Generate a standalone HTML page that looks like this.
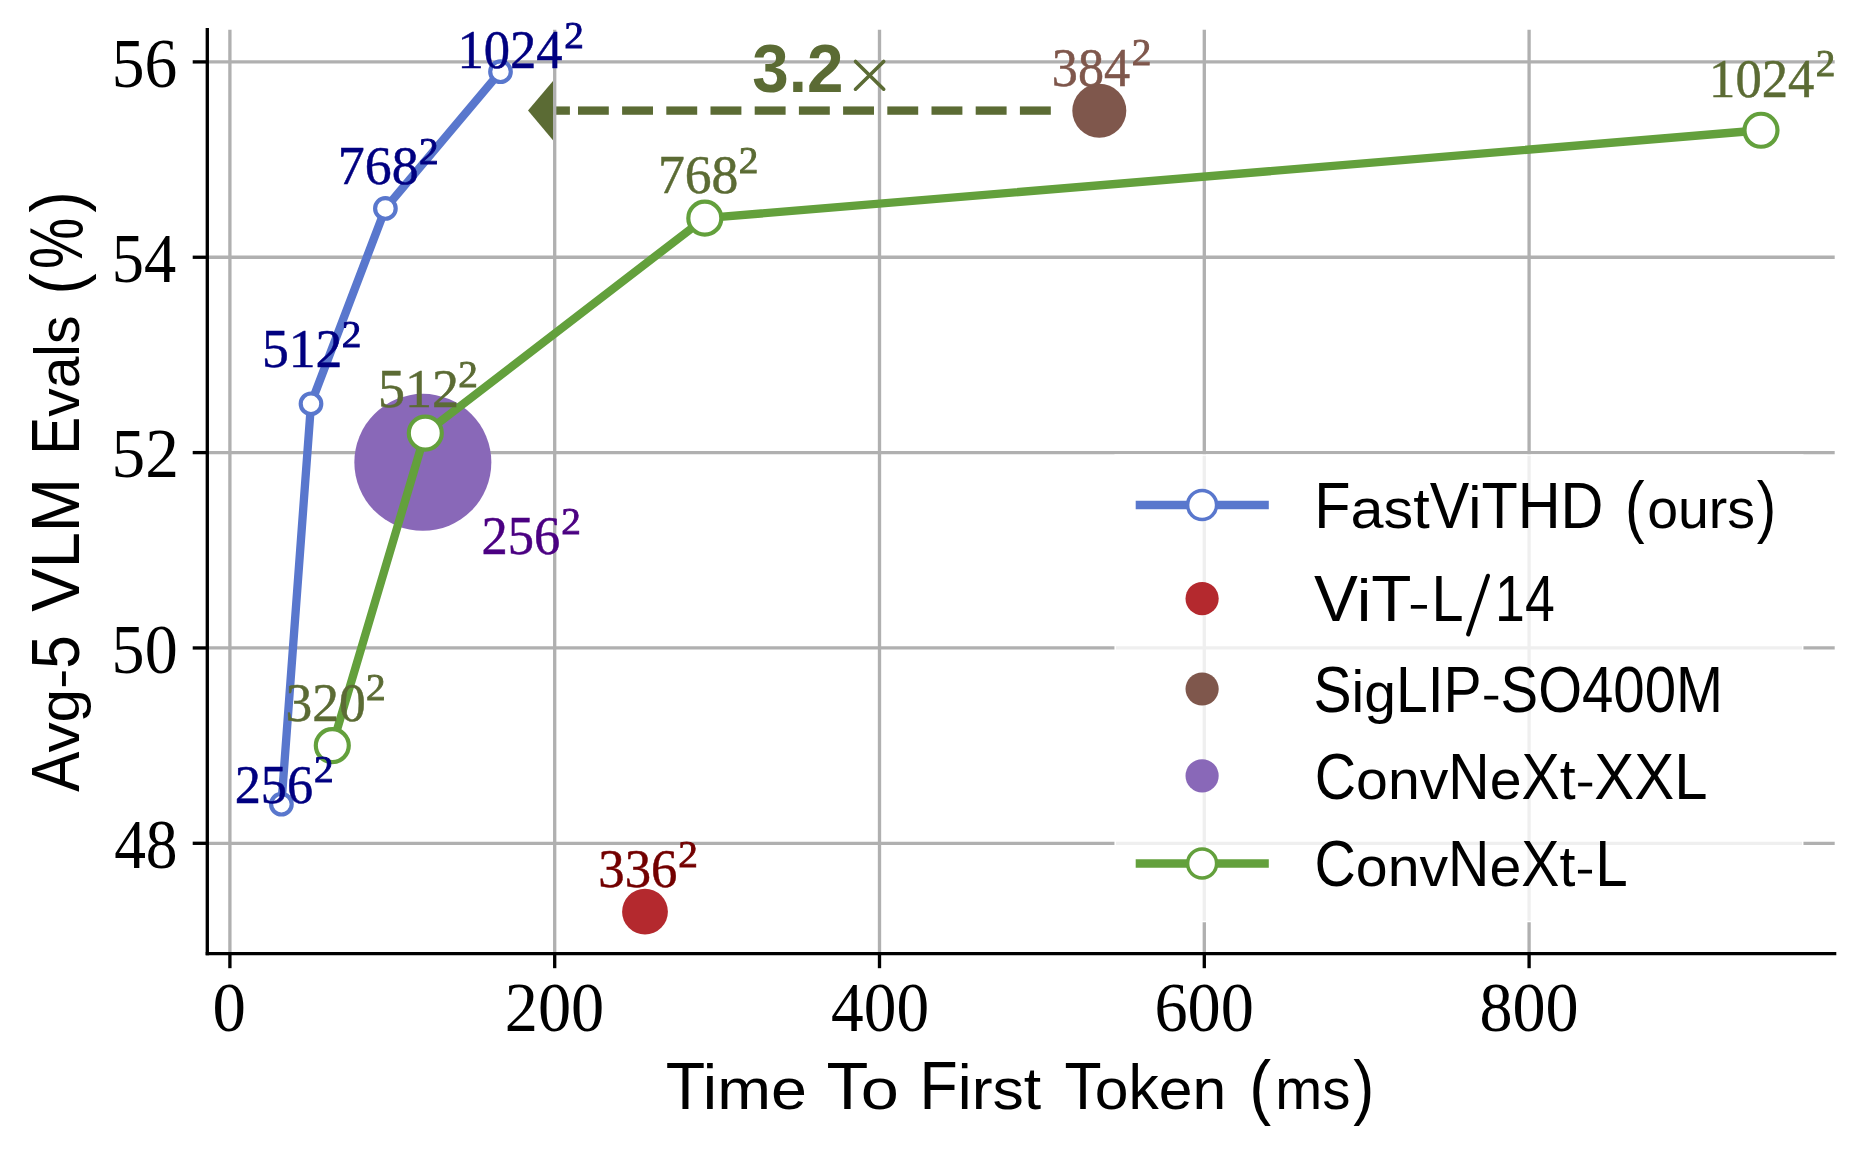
<!DOCTYPE html>
<html><head><meta charset="utf-8"><style>
html,body{margin:0;padding:0;background:#fff;overflow:hidden;}
svg{display:block;will-change:transform;}
text{font-kerning:normal;}
</style></head><body>
<svg width="1864" height="1155" viewBox="0 0 1864 1155">
<rect width="1864" height="1155" fill="#fff"/>
<polygon points="528,110.6 553.2,80.7 553.2,140.6" fill="#5b6b34"/>
<rect x="1019.90" y="106.43" width="30.90" height="8.33" fill="#5b6b34"/>
<rect x="975.70" y="106.43" width="30.90" height="8.33" fill="#5b6b34"/>
<rect x="931.50" y="106.43" width="30.90" height="8.33" fill="#5b6b34"/>
<rect x="887.30" y="106.43" width="30.90" height="8.33" fill="#5b6b34"/>
<rect x="843.10" y="106.43" width="30.90" height="8.33" fill="#5b6b34"/>
<rect x="798.90" y="106.43" width="30.90" height="8.33" fill="#5b6b34"/>
<rect x="754.70" y="106.43" width="30.90" height="8.33" fill="#5b6b34"/>
<rect x="710.50" y="106.43" width="30.90" height="8.33" fill="#5b6b34"/>
<rect x="666.30" y="106.43" width="30.90" height="8.33" fill="#5b6b34"/>
<rect x="622.10" y="106.43" width="30.90" height="8.33" fill="#5b6b34"/>
<rect x="578.00" y="106.43" width="30.80" height="8.33" fill="#5b6b34"/>
<rect x="553" y="106.43" width="16.9" height="8.33" fill="#5b6b34"/>
<line x1="229.90" y1="29.7" x2="229.90" y2="953.6" stroke="#b0b0b0" stroke-width="3.33"/>
<line x1="554.70" y1="29.7" x2="554.70" y2="953.6" stroke="#b0b0b0" stroke-width="3.33"/>
<line x1="879.50" y1="29.7" x2="879.50" y2="953.6" stroke="#b0b0b0" stroke-width="3.33"/>
<line x1="1204.30" y1="29.7" x2="1204.30" y2="953.6" stroke="#b0b0b0" stroke-width="3.33"/>
<line x1="1529.10" y1="29.7" x2="1529.10" y2="953.6" stroke="#b0b0b0" stroke-width="3.33"/>
<line x1="207.3" y1="843.30" x2="1834.7" y2="843.30" stroke="#b0b0b0" stroke-width="3.33"/>
<line x1="207.3" y1="647.95" x2="1834.7" y2="647.95" stroke="#b0b0b0" stroke-width="3.33"/>
<line x1="207.3" y1="452.60" x2="1834.7" y2="452.60" stroke="#b0b0b0" stroke-width="3.33"/>
<line x1="207.3" y1="257.25" x2="1834.7" y2="257.25" stroke="#b0b0b0" stroke-width="3.33"/>
<line x1="207.3" y1="61.90" x2="1834.7" y2="61.90" stroke="#b0b0b0" stroke-width="3.33"/>
<text transform="translate(752.22,91.80) scale(0.9642,1.0000)" font-family="'Liberation Sans',sans-serif" font-size="68.00" font-weight="bold" fill="#5b6b34">3.2</text>
<g stroke="#5b6b34" stroke-width="3.6" stroke-linecap="round"><line x1="855.5" y1="61.5" x2="883.7" y2="89.2"/><line x1="855.5" y1="89.2" x2="883.7" y2="61.5"/></g>
<circle cx="422.85" cy="462.37" r="68.5" fill="#8968b8"/>
<circle cx="645.0" cy="911.67" r="22.9" fill="#b4292e"/>
<circle cx="1099.3" cy="110.74" r="27.0" fill="#7f574c"/>
<polyline points="281.40,804.23 311.00,403.76 385.40,208.41 500.50,71.67" fill="none" stroke="#5977cd" stroke-width="8.33" stroke-linejoin="round"/>
<circle cx="281.40" cy="804.23" r="10.3" fill="#fff" stroke="#5977cd" stroke-width="4.17"/>
<circle cx="311.00" cy="403.76" r="10.3" fill="#fff" stroke="#5977cd" stroke-width="4.17"/>
<circle cx="385.40" cy="208.41" r="10.3" fill="#fff" stroke="#5977cd" stroke-width="4.17"/>
<circle cx="500.50" cy="71.67" r="10.3" fill="#fff" stroke="#5977cd" stroke-width="4.17"/>
<polyline points="332.30,745.62 425.30,433.06 704.80,218.18 1761.00,130.27" fill="none" stroke="#63a03c" stroke-width="8.33" stroke-linejoin="round"/>
<circle cx="332.30" cy="745.62" r="16.5" fill="#fff" stroke="#63a03c" stroke-width="4.17"/>
<circle cx="425.30" cy="433.06" r="16.5" fill="#fff" stroke="#63a03c" stroke-width="4.17"/>
<circle cx="704.80" cy="218.18" r="16.5" fill="#fff" stroke="#63a03c" stroke-width="4.17"/>
<circle cx="1761.00" cy="130.27" r="16.5" fill="#fff" stroke="#63a03c" stroke-width="4.17"/>
<text transform="translate(457.50,68.30) scale(0.9563,1.0000)" font-family="'Liberation Serif',serif" font-size="55.00" fill="#000080" stroke="#000080" stroke-width="0.5">1024</text>
<text transform="translate(564.23,48.00) scale(1.0196,1.0000)" font-family="'Liberation Serif',serif" font-size="38.50" fill="#000080" stroke="#000080" stroke-width="0.9">2</text>
<text transform="translate(337.80,184.10) scale(0.9797,1.0000)" font-family="'Liberation Serif',serif" font-size="55.00" fill="#000080" stroke="#000080" stroke-width="0.5">768</text>
<text transform="translate(418.93,163.80) scale(1.0196,1.0000)" font-family="'Liberation Serif',serif" font-size="38.50" fill="#000080" stroke="#000080" stroke-width="0.9">2</text>
<text transform="translate(261.91,367.30) scale(0.9762,1.0000)" font-family="'Liberation Serif',serif" font-size="55.00" fill="#000080" stroke="#000080" stroke-width="0.5">512</text>
<text transform="translate(341.83,347.00) scale(1.0196,1.0000)" font-family="'Liberation Serif',serif" font-size="38.50" fill="#000080" stroke="#000080" stroke-width="0.9">2</text>
<text transform="translate(234.68,802.70) scale(0.9514,1.0000)" font-family="'Liberation Serif',serif" font-size="55.00" fill="#000080" stroke="#000080" stroke-width="0.5">256</text>
<text transform="translate(313.93,782.40) scale(1.0196,1.0000)" font-family="'Liberation Serif',serif" font-size="38.50" fill="#000080" stroke="#000080" stroke-width="0.9">2</text>
<text transform="translate(285.46,720.50) scale(0.9727,1.0000)" font-family="'Liberation Serif',serif" font-size="55.00" fill="#5b6b34" stroke="#5b6b34" stroke-width="0.5">320</text>
<text transform="translate(366.03,700.20) scale(1.0196,1.0000)" font-family="'Liberation Serif',serif" font-size="38.50" fill="#5b6b34" stroke="#5b6b34" stroke-width="0.9">2</text>
<text transform="translate(377.89,407.10) scale(0.9828,1.0000)" font-family="'Liberation Serif',serif" font-size="55.00" fill="#5b6b34" stroke="#5b6b34" stroke-width="0.5">512</text>
<text transform="translate(458.33,386.80) scale(1.0196,1.0000)" font-family="'Liberation Serif',serif" font-size="38.50" fill="#5b6b34" stroke="#5b6b34" stroke-width="0.9">2</text>
<text transform="translate(657.91,192.90) scale(0.9758,1.0000)" font-family="'Liberation Serif',serif" font-size="55.00" fill="#5b6b34" stroke="#5b6b34" stroke-width="0.5">768</text>
<text transform="translate(738.73,172.60) scale(1.0196,1.0000)" font-family="'Liberation Serif',serif" font-size="38.50" fill="#5b6b34" stroke="#5b6b34" stroke-width="0.9">2</text>
<text transform="translate(1709.10,96.60) scale(0.9563,1.0000)" font-family="'Liberation Serif',serif" font-size="55.00" fill="#5b6b34" stroke="#5b6b34" stroke-width="0.5">1024</text>
<text transform="translate(1815.83,76.30) scale(1.0196,1.0000)" font-family="'Liberation Serif',serif" font-size="38.50" fill="#5b6b34" stroke="#5b6b34" stroke-width="0.9">2</text>
<text transform="translate(481.57,553.80) scale(0.9553,1.0000)" font-family="'Liberation Serif',serif" font-size="55.00" fill="#4b0082" stroke="#4b0082" stroke-width="0.5">256</text>
<text transform="translate(561.13,533.50) scale(1.0196,1.0000)" font-family="'Liberation Serif',serif" font-size="38.50" fill="#4b0082" stroke="#4b0082" stroke-width="0.9">2</text>
<text transform="translate(598.30,887.00) scale(0.9586,1.0000)" font-family="'Liberation Serif',serif" font-size="55.00" fill="#730000" stroke="#730000" stroke-width="0.5">336</text>
<text transform="translate(678.13,866.70) scale(1.0196,1.0000)" font-family="'Liberation Serif',serif" font-size="38.50" fill="#730000" stroke="#730000" stroke-width="0.9">2</text>
<text transform="translate(1051.82,85.60) scale(0.9486,1.0000)" font-family="'Liberation Serif',serif" font-size="55.00" fill="#7f574c" stroke="#7f574c" stroke-width="0.5">384</text>
<text transform="translate(1131.63,65.30) scale(1.0196,1.0000)" font-family="'Liberation Serif',serif" font-size="38.50" fill="#7f574c" stroke="#7f574c" stroke-width="0.9">2</text>
<line x1="207.3" y1="28.099999999999998" x2="207.3" y2="955.2" stroke="#000" stroke-width="3.33"/>
<line x1="205.70000000000002" y1="953.6" x2="1836.3" y2="953.6" stroke="#000" stroke-width="3.33"/>
<line x1="229.90" y1="953.6" x2="229.90" y2="968.2" stroke="#000" stroke-width="3.33"/>
<line x1="554.70" y1="953.6" x2="554.70" y2="968.2" stroke="#000" stroke-width="3.33"/>
<line x1="879.50" y1="953.6" x2="879.50" y2="968.2" stroke="#000" stroke-width="3.33"/>
<line x1="1204.30" y1="953.6" x2="1204.30" y2="968.2" stroke="#000" stroke-width="3.33"/>
<line x1="1529.10" y1="953.6" x2="1529.10" y2="968.2" stroke="#000" stroke-width="3.33"/>
<line x1="207.3" y1="843.30" x2="192.70000000000002" y2="843.30" stroke="#000" stroke-width="3.33"/>
<line x1="207.3" y1="647.95" x2="192.70000000000002" y2="647.95" stroke="#000" stroke-width="3.33"/>
<line x1="207.3" y1="452.60" x2="192.70000000000002" y2="452.60" stroke="#000" stroke-width="3.33"/>
<line x1="207.3" y1="257.25" x2="192.70000000000002" y2="257.25" stroke="#000" stroke-width="3.33"/>
<line x1="207.3" y1="61.90" x2="192.70000000000002" y2="61.90" stroke="#000" stroke-width="3.33"/>
<rect x="1115.2" y="455" width="687.5" height="466.5" fill="#fff" fill-opacity="0.8" stroke="#fff" stroke-width="1.5"/>
<line x1="1135.7" y1="505.0" x2="1268.8" y2="505.0" stroke="#5977cd" stroke-width="8.33"/>
<circle cx="1202.1" cy="505.0" r="14.5" fill="#fff" stroke="#5977cd" stroke-width="3.5"/>
<circle cx="1202.1" cy="598.6" r="16.6" fill="#b4292e"/>
<circle cx="1202.1" cy="689.0" r="16.6" fill="#7f574c"/>
<circle cx="1202.1" cy="775.8" r="16.6" fill="#8968b8"/>
<line x1="1135.7" y1="863.5" x2="1268.8" y2="863.5" stroke="#63a03c" stroke-width="8.33"/>
<circle cx="1202.1" cy="863.5" r="14.5" fill="#fff" stroke="#63a03c" stroke-width="3.5"/>
<text transform="translate(1314.20,528.00) scale(0.9206,1.0000)" font-family="'Liberation Sans',sans-serif" font-size="64.50" fill="#000">F</text>
<text transform="translate(1350.47,528.00) scale(0.9206,0.8600)" font-family="'Liberation Sans',sans-serif" font-size="64.50" fill="#000">a</text>
<text transform="translate(1383.50,528.00) scale(0.9206,0.8600)" font-family="'Liberation Sans',sans-serif" font-size="64.50" fill="#000">s</text>
<text transform="translate(1413.18,528.00) scale(0.9206,0.8750)" font-family="'Liberation Sans',sans-serif" font-size="64.50" fill="#000">t</text>
<text transform="translate(1429.68,528.00) scale(0.9206,1.0000)" font-family="'Liberation Sans',sans-serif" font-size="64.50" fill="#000">V</text>
<text transform="translate(1468.21,528.00) scale(0.9206,0.9300)" font-family="'Liberation Sans',sans-serif" font-size="64.50" fill="#000">i</text>
<text transform="translate(1481.41,528.00) scale(0.9206,1.0000)" font-family="'Liberation Sans',sans-serif" font-size="64.50" fill="#000">T</text>
<text transform="translate(1517.68,528.00) scale(0.9206,1.0000)" font-family="'Liberation Sans',sans-serif" font-size="64.50" fill="#000">H</text>
<text transform="translate(1560.56,528.00) scale(0.9206,1.0000)" font-family="'Liberation Sans',sans-serif" font-size="64.50" fill="#000">D</text>
<text transform="translate(1647.14,528.00) scale(0.8601,0.8600)" font-family="'Liberation Sans',sans-serif" font-size="64.50" fill="#000">o</text>
<text transform="translate(1678.00,528.00) scale(0.8601,0.8600)" font-family="'Liberation Sans',sans-serif" font-size="64.50" fill="#000">u</text>
<text transform="translate(1708.85,528.00) scale(0.8601,0.8600)" font-family="'Liberation Sans',sans-serif" font-size="64.50" fill="#000">r</text>
<text transform="translate(1727.32,528.00) scale(0.8601,0.8600)" font-family="'Liberation Sans',sans-serif" font-size="64.50" fill="#000">s</text>
<text transform="translate(1624.92,529.69) scale(0.9127,1.0541)" font-family="'Liberation Sans',sans-serif" font-size="64.50" fill="#000">(</text>
<text transform="translate(1756.86,529.69) scale(0.9068,1.0541)" font-family="'Liberation Sans',sans-serif" font-size="64.50" fill="#000">)</text>
<text transform="translate(1313.97,621.30) scale(1.0203,1.0000)" font-family="'Liberation Sans',sans-serif" font-size="64.50" fill="#000">V</text>
<text transform="translate(1356.68,621.30) scale(1.0203,0.9300)" font-family="'Liberation Sans',sans-serif" font-size="64.50" fill="#000">i</text>
<text transform="translate(1371.30,621.30) scale(1.0203,1.0000)" font-family="'Liberation Sans',sans-serif" font-size="64.50" fill="#000">T</text>
<rect x="1410.83" y="605.00" width="16.12" height="3.70" fill="#000"/>
<text transform="translate(1431.44,621.30) scale(0.8950,1.0000)" font-family="'Liberation Sans',sans-serif" font-size="64.50" fill="#000">L</text>
<text transform="translate(1495.08,621.30) scale(0.8310,1.0000)" font-family="'Liberation Sans',sans-serif" font-size="64.50" fill="#000">1</text>
<text transform="translate(1524.89,621.30) scale(0.8310,1.0000)" font-family="'Liberation Sans',sans-serif" font-size="64.50" fill="#000">4</text>
<line x1="1468.2" y1="634.3" x2="1487.9" y2="575.9" stroke="#000" stroke-width="4.3" stroke-linecap="round"/>
<text transform="translate(1313.53,712.10) scale(0.8848,1.0000)" font-family="'Liberation Sans',sans-serif" font-size="64.50" fill="#000">S</text>
<text transform="translate(1351.60,712.10) scale(0.8848,0.9300)" font-family="'Liberation Sans',sans-serif" font-size="64.50" fill="#000">i</text>
<text transform="translate(1364.28,712.10) scale(0.8848,0.8600)" font-family="'Liberation Sans',sans-serif" font-size="64.50" fill="#000">g</text>
<text transform="translate(1396.02,712.10) scale(0.8848,1.0000)" font-family="'Liberation Sans',sans-serif" font-size="64.50" fill="#000">L</text>
<text transform="translate(1427.76,712.10) scale(0.8848,1.0000)" font-family="'Liberation Sans',sans-serif" font-size="64.50" fill="#000">I</text>
<text transform="translate(1443.62,712.10) scale(0.8848,1.0000)" font-family="'Liberation Sans',sans-serif" font-size="64.50" fill="#000">P</text>
<rect x="1484.25" y="695.80" width="13.98" height="3.70" fill="#000"/>
<text transform="translate(1500.56,712.10) scale(0.8740,1.0000)" font-family="'Liberation Sans',sans-serif" font-size="64.50" fill="#000">S</text>
<text transform="translate(1538.16,712.10) scale(0.8740,1.0000)" font-family="'Liberation Sans',sans-serif" font-size="64.50" fill="#000">O</text>
<text transform="translate(1582.01,712.10) scale(0.8740,1.0000)" font-family="'Liberation Sans',sans-serif" font-size="64.50" fill="#000">4</text>
<text transform="translate(1613.36,712.10) scale(0.8740,1.0000)" font-family="'Liberation Sans',sans-serif" font-size="64.50" fill="#000">0</text>
<text transform="translate(1644.71,712.10) scale(0.8740,1.0000)" font-family="'Liberation Sans',sans-serif" font-size="64.50" fill="#000">0</text>
<text transform="translate(1676.07,712.10) scale(0.8740,1.0000)" font-family="'Liberation Sans',sans-serif" font-size="64.50" fill="#000">M</text>
<text transform="translate(1314.74,799.00) scale(0.8874,1.0000)" font-family="'Liberation Sans',sans-serif" font-size="64.50" fill="#000">C</text>
<text transform="translate(1356.07,799.00) scale(0.8874,0.8600)" font-family="'Liberation Sans',sans-serif" font-size="64.50" fill="#000">o</text>
<text transform="translate(1387.91,799.00) scale(0.8874,0.8600)" font-family="'Liberation Sans',sans-serif" font-size="64.50" fill="#000">n</text>
<text transform="translate(1419.74,799.00) scale(0.8874,0.8600)" font-family="'Liberation Sans',sans-serif" font-size="64.50" fill="#000">v</text>
<text transform="translate(1448.36,799.00) scale(0.8874,1.0000)" font-family="'Liberation Sans',sans-serif" font-size="64.50" fill="#000">N</text>
<text transform="translate(1489.70,799.00) scale(0.8874,0.8600)" font-family="'Liberation Sans',sans-serif" font-size="64.50" fill="#000">e</text>
<text transform="translate(1521.53,799.00) scale(0.8874,1.0000)" font-family="'Liberation Sans',sans-serif" font-size="64.50" fill="#000">X</text>
<text transform="translate(1559.71,799.00) scale(0.8874,0.8750)" font-family="'Liberation Sans',sans-serif" font-size="64.50" fill="#000">t</text>
<rect x="1578.18" y="782.70" width="14.02" height="3.70" fill="#000"/>
<text transform="translate(1594.35,799.00) scale(0.9285,1.0000)" font-family="'Liberation Sans',sans-serif" font-size="64.50" fill="#000">X</text>
<text transform="translate(1634.30,799.00) scale(0.9285,1.0000)" font-family="'Liberation Sans',sans-serif" font-size="64.50" fill="#000">X</text>
<text transform="translate(1674.25,799.00) scale(0.9285,1.0000)" font-family="'Liberation Sans',sans-serif" font-size="64.50" fill="#000">L</text>
<text transform="translate(1314.44,886.10) scale(0.8877,1.0000)" font-family="'Liberation Sans',sans-serif" font-size="64.50" fill="#000">C</text>
<text transform="translate(1355.79,886.10) scale(0.8877,0.8600)" font-family="'Liberation Sans',sans-serif" font-size="64.50" fill="#000">o</text>
<text transform="translate(1387.63,886.10) scale(0.8877,0.8600)" font-family="'Liberation Sans',sans-serif" font-size="64.50" fill="#000">n</text>
<text transform="translate(1419.48,886.10) scale(0.8877,0.8600)" font-family="'Liberation Sans',sans-serif" font-size="64.50" fill="#000">v</text>
<text transform="translate(1448.11,886.10) scale(0.8877,1.0000)" font-family="'Liberation Sans',sans-serif" font-size="64.50" fill="#000">N</text>
<text transform="translate(1489.46,886.10) scale(0.8877,0.8600)" font-family="'Liberation Sans',sans-serif" font-size="64.50" fill="#000">e</text>
<text transform="translate(1521.30,886.10) scale(0.8877,1.0000)" font-family="'Liberation Sans',sans-serif" font-size="64.50" fill="#000">X</text>
<text transform="translate(1559.49,886.10) scale(0.8877,0.8750)" font-family="'Liberation Sans',sans-serif" font-size="64.50" fill="#000">t</text>
<rect x="1577.98" y="869.80" width="14.03" height="3.70" fill="#000"/>
<text transform="translate(1595.18,886.10) scale(0.9056,1.0000)" font-family="'Liberation Sans',sans-serif" font-size="64.50" fill="#000">L</text>
<text transform="translate(212.59,1031.00) scale(0.9479,1.0000)" font-family="'Liberation Serif',serif" font-size="70.50" fill="#000">0</text>
<text transform="translate(504.78,1031.00) scale(0.9410,1.0000)" font-family="'Liberation Serif',serif" font-size="70.50" fill="#000">200</text>
<text transform="translate(831.09,1031.00) scale(0.9263,1.0000)" font-family="'Liberation Serif',serif" font-size="70.50" fill="#000">400</text>
<text transform="translate(1154.38,1031.00) scale(0.9410,1.0000)" font-family="'Liberation Serif',serif" font-size="70.50" fill="#000">600</text>
<text transform="translate(1479.52,1031.00) scale(0.9377,1.0000)" font-family="'Liberation Serif',serif" font-size="70.50" fill="#000">800</text>
<text transform="translate(114.13,868.10) scale(0.9000,1.0000)" font-family="'Liberation Serif',serif" font-size="70.50" fill="#000">48</text>
<text transform="translate(111.60,672.75) scale(0.9373,1.0000)" font-family="'Liberation Serif',serif" font-size="70.50" fill="#000">50</text>
<text transform="translate(111.53,477.40) scale(0.9557,1.0000)" font-family="'Liberation Serif',serif" font-size="70.50" fill="#000">52</text>
<text transform="translate(111.69,282.05) scale(0.9145,1.0000)" font-family="'Liberation Serif',serif" font-size="70.50" fill="#000">54</text>
<text transform="translate(111.63,86.70) scale(0.9296,1.0000)" font-family="'Liberation Serif',serif" font-size="70.50" fill="#000">56</text>
<text transform="translate(665.75,1108.90) scale(0.9553,1.0000)" font-family="'Liberation Sans',sans-serif" font-size="67.60" fill="#000">T</text>
<text transform="translate(702.80,1108.90) scale(0.9553,0.9300)" font-family="'Liberation Sans',sans-serif" font-size="67.60" fill="#000">i</text>
<text transform="translate(717.14,1108.90) scale(0.9553,0.8600)" font-family="'Liberation Sans',sans-serif" font-size="67.60" fill="#000">m</text>
<text transform="translate(770.94,1108.90) scale(0.9553,0.8600)" font-family="'Liberation Sans',sans-serif" font-size="67.60" fill="#000">e</text>
<text transform="translate(826.56,1108.90) scale(1.0135,1.0000)" font-family="'Liberation Sans',sans-serif" font-size="67.60" fill="#000">T</text>
<text transform="translate(860.82,1108.90) scale(1.0135,0.8600)" font-family="'Liberation Sans',sans-serif" font-size="67.60" fill="#000">o</text>
<text transform="translate(919.54,1108.90) scale(0.9255,1.0000)" font-family="'Liberation Sans',sans-serif" font-size="67.60" fill="#000">F</text>
<text transform="translate(957.76,1108.90) scale(0.9255,0.9300)" font-family="'Liberation Sans',sans-serif" font-size="67.60" fill="#000">i</text>
<text transform="translate(971.66,1108.90) scale(0.9255,0.8600)" font-family="'Liberation Sans',sans-serif" font-size="67.60" fill="#000">r</text>
<text transform="translate(992.49,1108.90) scale(0.9255,0.8600)" font-family="'Liberation Sans',sans-serif" font-size="67.60" fill="#000">s</text>
<text transform="translate(1023.77,1108.90) scale(0.9255,0.8750)" font-family="'Liberation Sans',sans-serif" font-size="67.60" fill="#000">t</text>
<text transform="translate(1064.54,1108.90) scale(0.8965,1.0000)" font-family="'Liberation Sans',sans-serif" font-size="67.60" fill="#000">T</text>
<text transform="translate(1094.84,1108.90) scale(0.8965,0.8600)" font-family="'Liberation Sans',sans-serif" font-size="67.60" fill="#000">o</text>
<text transform="translate(1128.54,1108.90) scale(0.8965,0.9400)" font-family="'Liberation Sans',sans-serif" font-size="67.60" fill="#000">k</text>
<text transform="translate(1158.84,1108.90) scale(0.8965,0.8600)" font-family="'Liberation Sans',sans-serif" font-size="67.60" fill="#000">e</text>
<text transform="translate(1192.54,1108.90) scale(0.8965,0.8600)" font-family="'Liberation Sans',sans-serif" font-size="67.60" fill="#000">n</text>
<text transform="translate(1275.20,1108.90) scale(0.8335,0.8600)" font-family="'Liberation Sans',sans-serif" font-size="67.60" fill="#000">m</text>
<text transform="translate(1322.13,1108.90) scale(0.8335,0.8600)" font-family="'Liberation Sans',sans-serif" font-size="67.60" fill="#000">s</text>
<text transform="translate(1249.30,1110.76) scale(0.9713,1.0724)" font-family="'Liberation Sans',sans-serif" font-size="67.60" fill="#000">(</text>
<text transform="translate(1353.33,1110.76) scale(0.9322,1.0724)" font-family="'Liberation Sans',sans-serif" font-size="67.60" fill="#000">)</text>
<text transform="translate(79.10,791.65) rotate(-90) scale(0.8916,1.0000)" font-family="'Liberation Sans',sans-serif" font-size="67.60" fill="#000">A</text>
<text transform="translate(79.10,752.54) rotate(-90) scale(0.8916,0.8600)" font-family="'Liberation Sans',sans-serif" font-size="67.60" fill="#000">v</text>
<text transform="translate(79.10,722.40) rotate(-90) scale(0.8916,0.8600)" font-family="'Liberation Sans',sans-serif" font-size="67.60" fill="#000">g</text>
<rect x="62.02" y="671.40" width="3.88" height="14.77" fill="#000"/>
<text transform="translate(79.10,668.80) rotate(-90) scale(0.8916,1.0000)" font-family="'Liberation Sans',sans-serif" font-size="67.60" fill="#000">5</text>
<text transform="translate(79.10,611.83) rotate(-90) scale(0.9639,1.0000)" font-family="'Liberation Sans',sans-serif" font-size="67.60" fill="#000">V</text>
<text transform="translate(79.10,568.36) rotate(-90) scale(0.9639,1.0000)" font-family="'Liberation Sans',sans-serif" font-size="67.60" fill="#000">L</text>
<text transform="translate(79.10,532.13) rotate(-90) scale(0.9639,1.0000)" font-family="'Liberation Sans',sans-serif" font-size="67.60" fill="#000">M</text>
<text transform="translate(79.10,454.69) rotate(-90) scale(0.8415,1.0000)" font-family="'Liberation Sans',sans-serif" font-size="67.60" fill="#000">E</text>
<text transform="translate(79.10,416.75) rotate(-90) scale(0.8415,0.8600)" font-family="'Liberation Sans',sans-serif" font-size="67.60" fill="#000">v</text>
<text transform="translate(79.10,388.31) rotate(-90) scale(0.8415,0.8600)" font-family="'Liberation Sans',sans-serif" font-size="67.60" fill="#000">a</text>
<text transform="translate(79.10,356.67) rotate(-90) scale(0.8415,0.9400)" font-family="'Liberation Sans',sans-serif" font-size="67.60" fill="#000">l</text>
<text transform="translate(79.10,344.03) rotate(-90) scale(0.8415,0.8600)" font-family="'Liberation Sans',sans-serif" font-size="67.60" fill="#000">s</text>
<text transform="translate(82.32,269.12) rotate(-90) scale(0.8533,1.1348)" font-family="'Liberation Sans',sans-serif" font-size="67.60" fill="#000">%</text>
<text transform="translate(81.25,294.49) rotate(-90) scale(0.9434,1.0660)" font-family="'Liberation Sans',sans-serif" font-size="67.60" fill="#000">(</text>
<text transform="translate(81.25,212.38) rotate(-90) scale(0.9434,1.0660)" font-family="'Liberation Sans',sans-serif" font-size="67.60" fill="#000">)</text>
</svg>
</body></html>
